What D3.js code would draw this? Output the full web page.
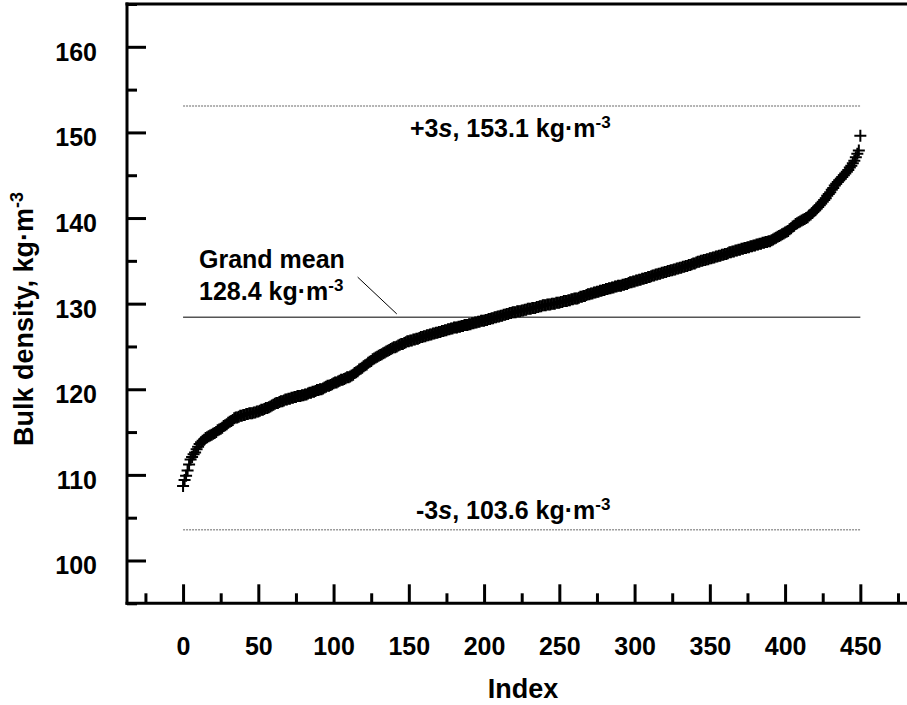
<!DOCTYPE html>
<html>
<head>
<meta charset="utf-8">
<script src="https://cdn.jsdelivr.net/npm/d3@7"></script>
<style>
    body { margin: 0; background: #fff; }
    text { font-family: "Liberation Sans", Arial, sans-serif; font-weight: bold; fill: #000; }
</style>
</head>
<body>
<div id="chart"></div>
<script>
// sorted bulk density values, kg/m3 (index 0..450)
var density = [
    108.7, 109.4, 109.9, 110.5, 111.2, 111.8, 112.1, 112.4, 112.6, 113.0,
    113.3, 113.6, 113.8, 114.0, 114.1, 114.3, 114.4, 114.5, 114.6, 114.7,
    114.8, 114.9, 115.0, 115.2, 115.3, 115.4, 115.5, 115.7, 115.8, 115.9,
    116.1, 116.2, 116.3, 116.4, 116.6, 116.7, 116.7, 116.8, 116.9, 116.9,
    117.0, 117.0, 117.1, 117.1, 117.2, 117.2, 117.2, 117.3, 117.3, 117.4,
    117.4, 117.5, 117.6, 117.6, 117.7, 117.8, 117.8, 117.9, 118.0, 118.1,
    118.2, 118.3, 118.4, 118.4, 118.5, 118.6, 118.6, 118.7, 118.8, 118.8,
    118.9, 118.9, 119.0, 119.0, 119.1, 119.1, 119.2, 119.2, 119.2, 119.3,
    119.3, 119.4, 119.4, 119.5, 119.6, 119.6, 119.7, 119.7, 119.8, 119.9,
    119.9, 120.0, 120.0, 120.1, 120.2, 120.3, 120.4, 120.4, 120.5, 120.6,
    120.7, 120.8, 120.8, 120.9, 121.0, 121.1, 121.1, 121.2, 121.3, 121.4,
    121.4, 121.5, 121.6, 121.7, 121.9, 122.0, 122.1, 122.3, 122.4, 122.5,
    122.7, 122.8, 122.9, 123.1, 123.2, 123.3, 123.5, 123.6, 123.7, 123.8,
    123.9, 124.0, 124.1, 124.2, 124.3, 124.4, 124.5, 124.6, 124.7, 124.8,
    124.9, 124.9, 125.0, 125.1, 125.2, 125.3, 125.3, 125.4, 125.5, 125.6,
    125.6, 125.7, 125.7, 125.8, 125.8, 125.9, 125.9, 126.0, 126.1, 126.1,
    126.2, 126.2, 126.3, 126.3, 126.4, 126.4, 126.5, 126.5, 126.6, 126.6,
    126.7, 126.7, 126.8, 126.8, 126.9, 126.9, 127.0, 127.0, 127.1, 127.1,
    127.2, 127.2, 127.2, 127.3, 127.3, 127.4, 127.4, 127.5, 127.5, 127.5,
    127.6, 127.6, 127.7, 127.7, 127.8, 127.8, 127.9, 127.9, 128.0, 128.0,
    128.0, 128.1, 128.1, 128.2, 128.2, 128.3, 128.3, 128.4, 128.4, 128.5,
    128.5, 128.6, 128.6, 128.7, 128.7, 128.8, 128.8, 128.9, 128.9, 129.0,
    129.0, 129.0, 129.1, 129.1, 129.1, 129.2, 129.2, 129.3, 129.3, 129.4,
    129.4, 129.4, 129.5, 129.5, 129.5, 129.6, 129.6, 129.7, 129.7, 129.8,
    129.8, 129.8, 129.9, 129.9, 129.9, 130.0, 130.0, 130.0, 130.1, 130.1,
    130.1, 130.2, 130.2, 130.3, 130.3, 130.3, 130.4, 130.4, 130.5, 130.5,
    130.6, 130.6, 130.6, 130.7, 130.8, 130.8, 130.9, 130.9, 131.0, 131.1,
    131.1, 131.2, 131.2, 131.3, 131.3, 131.4, 131.4, 131.5, 131.5, 131.6,
    131.6, 131.7, 131.7, 131.8, 131.8, 131.9, 131.9, 132.0, 132.0, 132.1,
    132.1, 132.1, 132.2, 132.2, 132.3, 132.3, 132.4, 132.5, 132.5, 132.6,
    132.6, 132.7, 132.7, 132.8, 132.8, 132.9, 132.9, 133.0, 133.0, 133.1,
    133.1, 133.2, 133.3, 133.3, 133.4, 133.4, 133.5, 133.5, 133.6, 133.6,
    133.7, 133.7, 133.8, 133.8, 133.9, 133.9, 134.0, 134.0, 134.1, 134.1,
    134.2, 134.2, 134.3, 134.3, 134.4, 134.4, 134.5, 134.5, 134.6, 134.7,
    134.7, 134.8, 134.9, 134.9, 135.0, 135.0, 135.1, 135.1, 135.2, 135.2,
    135.3, 135.3, 135.4, 135.4, 135.5, 135.5, 135.6, 135.6, 135.7, 135.7,
    135.8, 135.8, 135.9, 136.0, 136.0, 136.1, 136.1, 136.2, 136.2, 136.3,
    136.3, 136.4, 136.4, 136.5, 136.5, 136.6, 136.6, 136.7, 136.7, 136.8,
    136.8, 136.9, 136.9, 137.0, 137.0, 137.1, 137.1, 137.2, 137.2, 137.3,
    137.3, 137.4, 137.5, 137.6, 137.7, 137.8, 137.9, 138.0, 138.1, 138.2,
    138.3, 138.4, 138.5, 138.7, 138.8, 139.0, 139.1, 139.3, 139.4, 139.5,
    139.6, 139.7, 139.8, 139.9, 140.0, 140.1, 140.3, 140.4, 140.6, 140.8,
    140.9, 141.1, 141.3, 141.5, 141.7, 141.9, 142.1, 142.3, 142.6, 142.8,
    143.0, 143.3, 143.5, 143.8, 144.0, 144.2, 144.4, 144.6, 144.8, 145.0,
    145.2, 145.4, 145.6, 145.9, 146.1, 146.4, 146.7, 147.1, 147.5, 147.9,
    149.6
];

var xTicks = [0, 50, 100, 150, 200, 250, 300, 350, 400, 450];
var xMinor = [-25, 25, 75, 125, 175, 225, 275, 325, 375, 425, 475];
var yTicks = [100, 110, 120, 130, 140, 150, 160];
var yMinor = [95, 105, 115, 125, 135, 145, 155, 165];

var grandMean = 128.4, plus3s = 153.1, minus3s = 103.6;
var lineSpan = [0, 450];

var width = 907, height = 705;

var svg = d3.select('#chart').append('svg')
    .attr('width', width)
    .attr('height', height);

// scales
var x = d3.scaleLinear().domain([-37.25, 481]).range([127, 907]);
var y = d3.scaleLinear().domain([95, 165]).range([603.3, 4]);

// reference lines
svg.append('line')
    .attr('x1', x(lineSpan[0])).attr('x2', x(lineSpan[1]))
    .attr('y1', y(plus3s)).attr('y2', y(plus3s))
    .attr('stroke', '#9a9a9a').attr('stroke-width', 1.5)
    .attr('stroke-dasharray', '2,1');

svg.append('line')
    .attr('x1', x(lineSpan[0])).attr('x2', x(lineSpan[1]))
    .attr('y1', y(minus3s)).attr('y2', y(minus3s))
    .attr('stroke', '#9a9a9a').attr('stroke-width', 1.5)
    .attr('stroke-dasharray', '2,1');

svg.append('line')
    .attr('x1', x(lineSpan[0])).attr('x2', x(lineSpan[1]))
    .attr('y1', y(grandMean)).attr('y2', y(grandMean))
    .attr('stroke', '#555').attr('stroke-width', 1.5);

// leader from label to mean line
svg.append('line')
    .attr('x1', x(116)).attr('y1', y(133.1))
    .attr('x2', x(142)).attr('y2', y(128.8))
    .attr('stroke', '#000').attr('stroke-width', 1);

// points as plus markers
svg.append('g').selectAll('path')
    .data(density)
    .enter().append('path')
    .attr('d', 'M-6,0H6M0,-6V6')
    .attr('transform', function (d, i) { return 'translate(' + x(i) + ',' + y(d) + ')'; })
    .attr('stroke', '#000')
    .attr('stroke-width', 2)
    .attr('fill', 'none');

// axes
function styleAxis(g) {
    g.select('.domain').remove();
    g.selectAll('line').attr('stroke', '#000').attr('stroke-width', 3);
    g.attr('font-family', null).attr('font-size', null);
}

var yAxis = svg.append('g')
    .attr('transform', 'translate(' + x.range()[0] + ',0)')
    .call(d3.axisLeft(y).tickValues(yTicks).tickSize(-19).tickPadding(30))
    .call(styleAxis);
yAxis.selectAll('text').attr('dy', 13.5).style('font-size', '25px');

svg.append('g')
    .attr('transform', 'translate(' + x.range()[0] + ',0)')
    .call(d3.axisLeft(y).tickValues(yMinor).tickSize(-10).tickFormat(''))
    .call(styleAxis);

var xAxis = svg.append('g')
    .attr('transform', 'translate(0,' + y.range()[0] + ')')
    .call(d3.axisBottom(x).tickValues(xTicks).tickSize(-19))
    .call(styleAxis);
xAxis.selectAll('text').attr('y', 52).attr('dy', 0).style('font-size', '25px');

svg.append('g')
    .attr('transform', 'translate(0,' + y.range()[0] + ')')
    .call(d3.axisBottom(x).tickValues(xMinor).tickSize(-10).tickFormat(''))
    .call(styleAxis);

// axis lines and top border
svg.append('line')
    .attr('x1', x.range()[0]).attr('x2', x.range()[0])
    .attr('y1', y.range()[1] - 1.5).attr('y2', y.range()[0] + 1.5)
    .attr('stroke', '#000').attr('stroke-width', 3);
svg.append('line')
    .attr('x1', x.range()[0] - 1.5).attr('x2', x.range()[1])
    .attr('y1', y.range()[0]).attr('y2', y.range()[0])
    .attr('stroke', '#000').attr('stroke-width', 3);
svg.append('line')
    .attr('x1', x.range()[0] - 1.5).attr('x2', x.range()[1])
    .attr('y1', y.range()[1]).attr('y2', y.range()[1])
    .attr('stroke', '#000').attr('stroke-width', 3);

// axis titles
svg.append('text')
    .attr('x', 523).attr('y', 698)
    .attr('text-anchor', 'middle')
    .style('font-size', '27px')
    .text('Index');

var yTitle = svg.append('text')
    .attr('transform', 'translate(33,446) rotate(-90)')
    .attr('text-anchor', 'start')
    .style('font-size', '27px');
yTitle.append('tspan').text('Bulk density, kg·m');
yTitle.append('tspan').attr('dy', -10).style('font-size', '18px').text('-3');

// annotations
function addUnitLabel(px, py, parts) {
    var t = svg.append('text').attr('x', px).attr('y', py).style('font-size', '25px');
    parts.forEach(function (p) {
        var s = t.append('tspan').text(p.text);
        if (p.italic) s.style('font-style', 'italic');
        if (p.sup) s.attr('dy', -9).style('font-size', '17px');
    });
    return t;
}

addUnitLabel(410, 137, [
    { text: '+3' }, { text: 's', italic: true }, { text: ', 153.1 kg·m' }, { text: '-3', sup: true }
]);
addUnitLabel(416, 519, [
    { text: '-3' }, { text: 's', italic: true }, { text: ', 103.6 kg·m' }, { text: '-3', sup: true }
]);

svg.append('text')
    .attr('x', 199).attr('y', 268)
    .style('font-size', '25px')
    .text('Grand mean');
addUnitLabel(199, 300, [
    { text: '128.4 kg·m' }, { text: '-3', sup: true }
]);
</script>
</body>
</html>
